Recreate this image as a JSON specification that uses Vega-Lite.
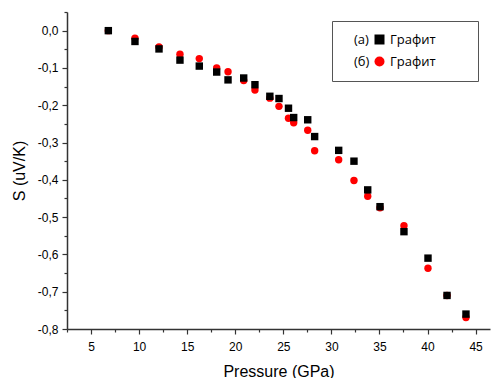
{
  "$schema": "https://vega.github.io/schema/vega-lite/v6.json",
  "width": 423,
  "height": 317,
  "autosize": "none",
  "padding": {"left": 67, "top": 12, "right": 3, "bottom": 49},
  "background": "white",
  "config": {"view": {"stroke": null}},
  "data": {
    "values": [
      {"P": 6.8, "S": 0.0, "series": "б"},
      {"P": 9.57, "S": -0.02, "series": "б"},
      {"P": 12.07, "S": -0.044, "series": "б"},
      {"P": 14.25, "S": -0.063, "series": "б"},
      {"P": 16.26, "S": -0.075, "series": "б"},
      {"P": 18.07, "S": -0.1, "series": "б"},
      {"P": 19.25, "S": -0.11, "series": "б"},
      {"P": 20.88, "S": -0.134, "series": "б"},
      {"P": 22.05, "S": -0.159, "series": "б"},
      {"P": 23.6, "S": -0.181, "series": "б"},
      {"P": 24.55, "S": -0.203, "series": "б"},
      {"P": 25.54, "S": -0.235, "series": "б"},
      {"P": 26.08, "S": -0.247, "series": "б"},
      {"P": 27.54, "S": -0.267, "series": "б"},
      {"P": 28.26, "S": -0.322, "series": "б"},
      {"P": 30.76, "S": -0.346, "series": "б"},
      {"P": 32.35, "S": -0.402, "series": "б"},
      {"P": 33.78, "S": -0.444, "series": "б"},
      {"P": 35.06, "S": -0.475, "series": "б"},
      {"P": 37.55, "S": -0.523, "series": "б"},
      {"P": 40.05, "S": -0.637, "series": "б"},
      {"P": 42.03, "S": -0.71, "series": "б"},
      {"P": 44.0, "S": -0.769, "series": "б"},
      {"P": 6.8, "S": 0.0, "series": "а"},
      {"P": 9.57, "S": -0.029, "series": "а"},
      {"P": 12.07, "S": -0.049, "series": "а"},
      {"P": 14.25, "S": -0.079, "series": "а"},
      {"P": 16.26, "S": -0.095, "series": "а"},
      {"P": 18.07, "S": -0.111, "series": "а"},
      {"P": 19.25, "S": -0.132, "series": "а"},
      {"P": 20.88, "S": -0.127, "series": "а"},
      {"P": 22.05, "S": -0.145, "series": "а"},
      {"P": 23.6, "S": -0.176, "series": "а"},
      {"P": 24.55, "S": -0.182, "series": "а"},
      {"P": 25.54, "S": -0.208, "series": "а"},
      {"P": 26.08, "S": -0.233, "series": "а"},
      {"P": 27.54, "S": -0.239, "series": "а"},
      {"P": 28.26, "S": -0.284, "series": "а"},
      {"P": 30.76, "S": -0.321, "series": "а"},
      {"P": 32.35, "S": -0.35, "series": "а"},
      {"P": 33.78, "S": -0.427, "series": "а"},
      {"P": 35.06, "S": -0.472, "series": "а"},
      {"P": 37.55, "S": -0.539, "series": "а"},
      {"P": 40.05, "S": -0.61, "series": "а"},
      {"P": 42.03, "S": -0.71, "series": "а"},
      {"P": 44.0, "S": -0.76, "series": "а"}
    ]
  },
  "mark": {"type": "point", "filled": true, "opacity": 1, "size": 55},
  "encoding": {
    "x": {
      "field": "P",
      "type": "quantitative",
      "scale": {"domain": [2.5, 46.5], "nice": false, "zero": false},
      "axis": {
        "title": "Pressure (GPa)",
        "values": [2.5, 5, 7.5, 10, 12.5, 15, 17.5, 20, 22.5, 25, 27.5, 30, 32.5, 35, 37.5, 40, 42.5, 45],
        "labelExpr": "datum.value % 5 != 0 ? '' : format(datum.value, 'd')",
        "labelOverlap": false,
        "labelFlush": false,
        "labelBound": false,
        "grid": false,
        "domainColor": "#333333",
        "domainWidth": 1.5,
        "tickColor": "#333333",
        "tickWidth": 1.2,
        "tickSize": {"condition": {"test": "datum.value % 5 != 0", "value": 3}, "value": 5},
        "labelFont": "Liberation Sans",
        "labelFontSize": 12,
        "labelColor": "#000000",
        "labelPadding": 7,
        "titleFont": "Liberation Sans",
        "titleFontSize": 16,
        "titleFontWeight": "normal",
        "titleColor": "#000000",
        "titlePadding": 11
      }
    },
    "y": {
      "field": "S",
      "type": "quantitative",
      "scale": {"domain": [-0.8, 0.05], "nice": false, "zero": false},
      "axis": {
        "title": "S (uV/K)",
        "values": [-0.8, -0.75, -0.7, -0.65, -0.6, -0.55, -0.5, -0.45, -0.4, -0.35, -0.3, -0.25, -0.2, -0.15, -0.1, -0.05, 0, 0.05],
        "labelExpr": "abs(datum.value * 10 - round(datum.value * 10)) > 0.01 ? '' : replace(replace(format(datum.value, '.1f'), '.', ','), '−', '-')",
        "labelOverlap": false,
        "labelFlush": false,
        "labelBound": false,
        "grid": false,
        "domainColor": "#333333",
        "domainWidth": 1.5,
        "tickColor": "#333333",
        "tickWidth": 1.2,
        "tickSize": {"condition": {"test": "abs(datum.value * 10 - round(datum.value * 10)) > 0.01", "value": 3}, "value": 5},
        "labelFont": "Liberation Sans",
        "labelFontSize": 12,
        "labelColor": "#000000",
        "labelPadding": 4,
        "titleFont": "Liberation Sans",
        "titleFontSize": 16,
        "titleFontWeight": "normal",
        "titleColor": "#000000",
        "titlePadding": 10
      }
    },
    "shape": {
      "field": "series",
      "type": "nominal",
      "scale": {"domain": ["а", "б"], "range": ["square", "circle"]},
      "legend": {
        "orient": "none",
        "legendX": 265,
        "legendY": 9,
        "title": ["\u2800(а)", "\u2800(б)"],
        "titleOrient": "left",
        "titleFont": "Open Sans",
        "titleFontSize": 13,
        "titleFontWeight": "normal",
        "titleColor": "#000000",
        "titleLineHeight": 22,
        "titlePadding": 3,
        "labelExpr": "'Графит\u2800\u2800\u2800'",
        "labelFont": "Open Sans",
        "labelFontSize": 13,
        "labelColor": "#000000",
        "labelOffset": 4,
        "symbolSize": 100,
        "symbolStrokeWidth": 0,
        "rowPadding": 8,
        "padding": 12,
        "strokeColor": "#555555",
        "fillColor": "#ffffff"
      }
    },
    "color": {
      "field": "series",
      "type": "nominal",
      "scale": {"domain": ["а", "б"], "range": ["#000000", "#ff0000"]},
      "legend": {
        "orient": "none",
        "legendX": 265,
        "legendY": 9,
        "title": ["\u2800(а)", "\u2800(б)"],
        "titleOrient": "left",
        "titleFont": "Open Sans",
        "titleFontSize": 13,
        "titleFontWeight": "normal",
        "titleColor": "#000000",
        "titleLineHeight": 22,
        "titlePadding": 3,
        "labelExpr": "'Графит\u2800\u2800\u2800'",
        "labelFont": "Open Sans",
        "labelFontSize": 13,
        "labelColor": "#000000",
        "labelOffset": 4,
        "symbolSize": 100,
        "symbolStrokeWidth": 0,
        "rowPadding": 8,
        "padding": 12,
        "strokeColor": "#555555",
        "fillColor": "#ffffff"
      }
    },
    "order": {"field": "series", "sort": "descending"}
  }
}
